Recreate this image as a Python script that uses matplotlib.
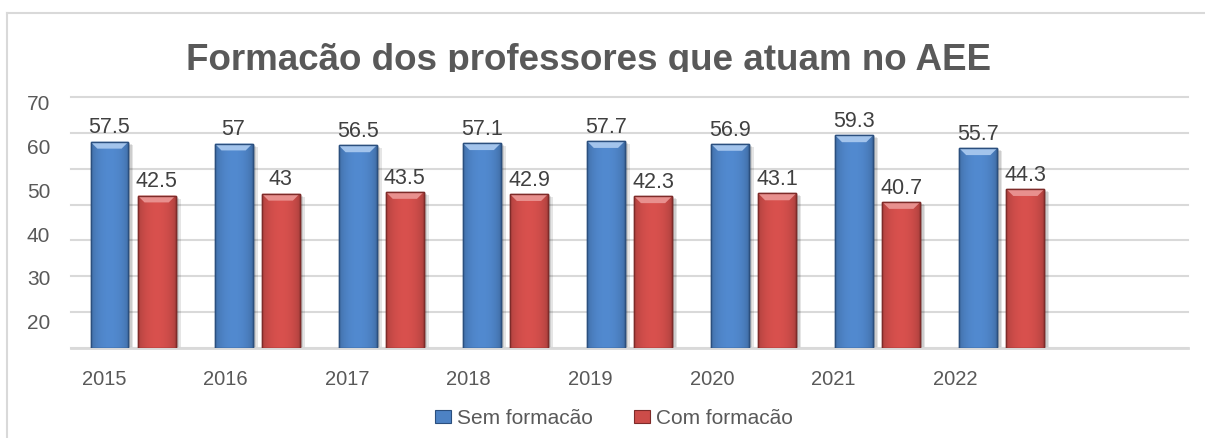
import matplotlib
matplotlib.use("Agg")
import matplotlib.pyplot as plt
import numpy as np
from matplotlib.patches import Polygon, Patch, Rectangle
from matplotlib.transforms import Bbox, TransformedBbox, offset_copy
from matplotlib.lines import Line2D
from matplotlib.colors import to_rgb

plt.rcParams['font.family'] = ['Liberation Sans', 'DejaVu Sans']

# ---------------- data ----------------
years = ["2015", "2016", "2017", "2018", "2019", "2020", "2021", "2022"]
sem_formacao = [57.5, 57, 56.5, 57.1, 57.7, 56.9, 59.3, 55.7]
com_formacao = [42.5, 43, 43.5, 42.9, 42.3, 43.1, 40.7, 44.3]
series_names = ["Sem formacão", "Com formacão"]
y_tick_values = [20, 30, 40, 50, 60, 70]
title_text = "Formacão dos professores que atuam no AEE"

# ---------------- style ----------------
W, H = 1205, 438
TEXT = "#595959"
LABEL = "#404040"
GRID = "#d9d9d9"
BLUE = "#4d82c4"
RED = "#cc4c49"
BLUE_TOP = "#a3c4ec"
RED_TOP = "#e8908e"
BLUE_EDGE = "#2b4f7e"
RED_EDGE = "#7e2b29"

fig = plt.figure(figsize=(W / 100, H / 100), dpi=100)
fig.patch.set_facecolor("white")


def px_rect(l, t, r, b):
    return [l / W, 1 - b / H, (r - l) / W, (b - t) / H]


# chart border (left + top, runs off right/bottom)
fig.add_artist(Line2D([7 / W, 7 / W], [0, 1 - 13 / H], color=GRID, lw=1.5,
                      transform=fig.transFigure))
fig.add_artist(Line2D([7 / W, 1], [1 - 13 / H, 1 - 13 / H], color=GRID, lw=1.5,
                      transform=fig.transFigure))

ax = fig.add_axes(px_rect(71, 97, 1188, 348))
ax.set_xlim(-0.5, 8.5)
ax.set_ylim(0, 70)

x = np.arange(len(years))
bw = 0.305
off = 0.19


def gradient_img(base):
    c = np.array(to_rgb(base))
    t = np.linspace(0, 1, 80)
    prof = 0.80 + 0.26 * np.sin(np.pi * t) ** 0.5
    img = np.clip(c[None, :] * prof[:, None], 0, 1)
    return img[None, :, :]


def draw_series(xs, vals, base, top, edge):
    bars = ax.bar(xs, vals, width=bw, color=base, edgecolor=edge, lw=1.0, zorder=3)
    img = gradient_img(base)
    for k in range(3):
        tr = offset_copy(ax.transData, fig=fig, x=2 + 1.5 * k, y=-1 - k, units="dots")
        for b in bars:
            ax.add_patch(Rectangle((b.get_x(), 0), b.get_width(), b.get_height(),
                                   transform=tr, facecolor="#000000", alpha=0.10,
                                   lw=0, zorder=2))
    for b in bars:
        x0, w, h = b.get_x(), b.get_width(), b.get_height()
        im = ax.imshow(img, extent=[x0, x0 + w, 0, h], aspect="auto", zorder=3.5,
                       interpolation="bilinear")
        im.set_clip_path(b)
        dx, dy = 0.055, 1.9
        ax.add_patch(Polygon([(x0, h), (x0 + w, h), (x0 + w - dx, h - dy), (x0 + dx, h - dy)],
                             closed=True, facecolor=top, edgecolor="none", zorder=3.6))
        ax.add_patch(Rectangle((x0, 0), w, h, facecolor="none", edgecolor=edge,
                               lw=1.0, zorder=3.7))
    for xi, v in zip(xs, vals):
        ax.annotate(f"{v:g}", (xi, v), xytext=(0, 6), textcoords="offset points",
                    ha="center", va="baseline", fontsize=15.5, color=LABEL, zorder=5)


draw_series(x - off, sem_formacao, BLUE, BLUE_TOP, BLUE_EDGE)
draw_series(x + off, com_formacao, RED, RED_TOP, RED_EDGE)

ax.set_xlim(-0.5, 8.5)
ax.set_ylim(0, 70)
ax.set_yticks(np.arange(0, 71, 10))
ax.set_xticks([])
ax.tick_params(axis="y", length=0, labelleft=False)
ax.yaxis.grid(True, color=GRID, lw=1.5)
ax.set_axisbelow(True)
for s in ["top", "right", "left"]:
    ax.spines[s].set_visible(False)
ax.spines["bottom"].set_color(GRID)
ax.spines["bottom"].set_linewidth(2)
for gl in ax.get_ygridlines():
    gl.set_clip_on(False)
    gl.set_zorder(0.5)

# y tick labels (placed as in the reference)
ay = ax.twinx()
ay.set_ylim(14.0, 71.3)
ay.set_yticks(y_tick_values)
ay.set_yticklabels([str(v) for v in y_tick_values])
ay.yaxis.tick_left()
ay.tick_params(axis="y", length=0, pad=15, labelsize=15, labelcolor=TEXT)
ay.tick_params(axis="x", bottom=False, top=False, labelbottom=False, labeltop=False)
for s in ay.spines.values():
    s.set_visible(False)

# x tick labels
axx = ax.twiny()
axx.set_xlim(-0.271, 8.914)
axx.set_xticks(np.arange(len(years)))
axx.set_xticklabels(years)
axx.xaxis.tick_bottom()
axx.tick_params(axis="x", length=0, pad=16, labelsize=14.5, labelcolor=TEXT)
axx.tick_params(axis="y", left=False, right=False, labelleft=False, labelright=False)
for s in axx.spines.values():
    s.set_visible(False)

# title (clipped at the bottom as in the reference)
t = fig.text(589 / W, 1 - 70 / H, title_text, ha="center", va="baseline",
             fontsize=26.5, fontweight="bold", color=TEXT)
clip = TransformedBbox(Bbox([[0, 1 - 72 / H], [1, 1]]), fig.transFigure)
t.set_clip_box(clip)
t.set_clip_on(True)

# legend
handles = [Patch(facecolor=BLUE, edgecolor=BLUE_EDGE, lw=0.8),
           Patch(facecolor=RED, edgecolor=RED_EDGE, lw=0.8)]
leg = fig.legend(handles, series_names, loc="center", bbox_to_anchor=(614 / W, 1 - 418 / H),
                 ncol=2, frameon=False, fontsize=15, handlelength=0.75, handleheight=0.6,
                 handletextpad=0.3, columnspacing=2.0, borderaxespad=0)
for tx in leg.get_texts():
    tx.set_color(TEXT)

fig.savefig("out.png", dpi=100, facecolor="white")
